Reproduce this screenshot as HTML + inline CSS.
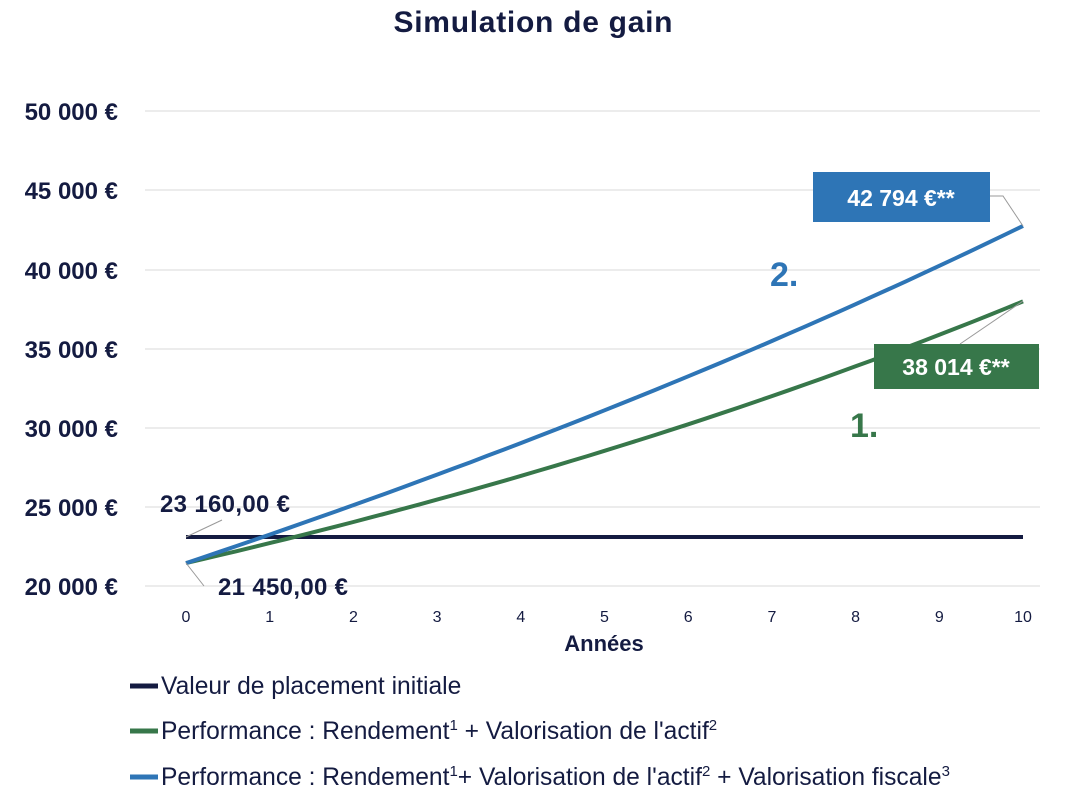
<!DOCTYPE html><html><head><meta charset="utf-8"><style>
body{margin:0;background:#fff;width:1075px;height:800px;overflow:hidden;font-family:"Liberation Sans",sans-serif}
</style></head><body>
<svg id="s" width="1075" height="800" xmlns="http://www.w3.org/2000/svg" font-family="Liberation Sans, sans-serif">
<text x="533" y="32" text-anchor="middle" font-size="30" font-weight="bold" fill="#141B41" textLength="279">Simulation de gain</text>
<g stroke="#d9d9d9" stroke-width="1">
<line x1="145" x2="1040" y1="111" y2="111"/><line x1="145" x2="1040" y1="190" y2="190"/><line x1="145" x2="1040" y1="270" y2="270"/><line x1="145" x2="1040" y1="349" y2="349"/><line x1="145" x2="1040" y1="428" y2="428"/><line x1="145" x2="1040" y1="507" y2="507"/><line x1="145" x2="1040" y1="586" y2="586"/>
</g>
<g font-size="24" font-weight="bold" fill="#141B41" text-anchor="end">
<text x="118" y="120">50 000 €</text><text x="118" y="199">45 000 €</text><text x="118" y="279">40 000 €</text><text x="118" y="358">35 000 €</text><text x="118" y="437">30 000 €</text><text x="118" y="516">25 000 €</text><text x="118" y="595">20 000 €</text>
</g>
<g id="xt" font-size="16" fill="#141B41" text-anchor="middle"></g>
<text x="604" y="651" text-anchor="middle" font-size="22" font-weight="bold" fill="#141B41">Années</text>
<line x1="186" x2="1023" y1="537" y2="537" stroke="#141B41" stroke-width="4"/>
<path id="g" fill="none" stroke="#37774A" stroke-width="4"/>
<path id="b" fill="none" stroke="#2E75B6" stroke-width="4"/>
<g stroke="#999" stroke-width="1" fill="none">
<polyline points="186,537 222,520"/><polyline points="186,563 204,586"/>
<polyline points="990,196 1003,196 1023,226"/><polyline points="1023,301 960,344"/>
</g>
<g font-size="24" font-weight="bold" fill="#141B41">
<text x="160" y="512" textLength="130">23 160,00  €</text><text x="218" y="595" textLength="130">21 450,00  €</text>
</g>
<rect x="813" y="172" width="177" height="50" fill="#2E75B6"/>
<text x="901" y="206" text-anchor="middle" font-size="23" font-weight="bold" fill="#fff">42 794 €**</text>
<rect x="874" y="344" width="165" height="45" fill="#37774A"/>
<text x="956" y="375" text-anchor="middle" font-size="23" font-weight="bold" fill="#fff">38 014 €**</text>
<text x="770" y="286" font-size="34" font-weight="bold" fill="#2E75B6">2.</text>
<text x="850" y="437" font-size="34" font-weight="bold" fill="#37774A">1.</text>
<g stroke-width="5"><line x1="130" x2="158" y1="686" y2="686" stroke="#141B41"/><line x1="130" x2="158" y1="731" y2="731" stroke="#37774A"/><line x1="130" x2="158" y1="777" y2="777" stroke="#2E75B6"/></g>
<g font-size="24.6" fill="#141B41">
<text x="161" y="694">Valeur de placement initiale</text>
<text x="161" y="739">Performance : Rendement<tspan dy="-9" font-size="15">1</tspan><tspan dy="9"> + Valorisation de l'actif</tspan><tspan dy="-9" font-size="15">2</tspan></text>
<text x="161" y="785">Performance : Rendement<tspan dy="-9" font-size="15">1</tspan><tspan dy="9">+ Valorisation de l'actif</tspan><tspan dy="-9" font-size="15">2</tspan><tspan dy="9"> + Valorisation fiscale</tspan><tspan dy="-9" font-size="15">3</tspan></text>
</g>
</svg>
<script>
function X(t){return 186+t*83.7}function Y(v){return 586-(v-20000)/5000*79}
function p(end,lin){var r=Math.pow(end/21450,0.1),d="";for(var i=0;i<=50;i++){var t=i/5;var v=(1-lin)*21450*Math.pow(r,t)+lin*(21450+(end-21450)*t/10);d+=(i?"L":"M")+X(t).toFixed(1)+","+Y(v).toFixed(1)}return d}
document.getElementById("g").setAttribute("d",p(38014,0));
document.getElementById("b").setAttribute("d",p(42794,0.45));
var xt=document.getElementById("xt"),h="";
for(var i=0;i<=10;i++)h+='<text x="'+X(i)+'" y="622">'+i+'</text>';
xt.innerHTML=h;
</script>
</body></html>
